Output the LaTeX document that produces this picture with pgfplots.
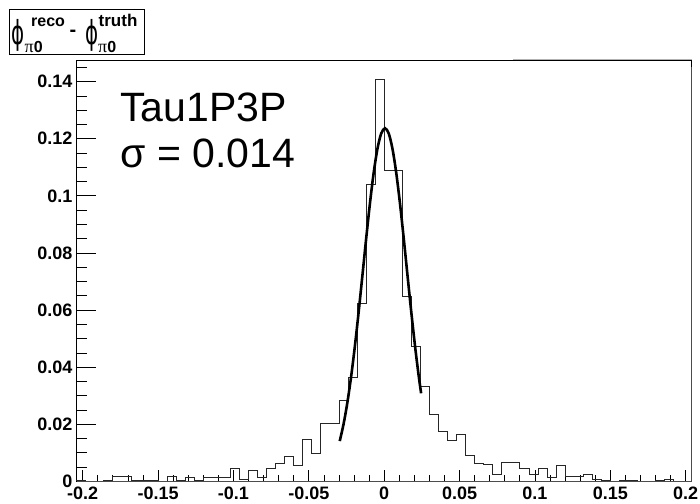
\documentclass[border=0pt]{standalone}
\usepackage{fontspec}
\setmainfont{Liberation Sans}
\newfontfamily\dejavu{DejaVu Sans}
\newfontfamily\lserif{Liberation Serif}
\usepackage{graphicx}
\usepackage{pgfplots}
\pgfplotsset{compat=1.18}
\begin{document}
\begin{tikzpicture}[x=1pt,y=1pt]
\path[use as bounding box] (0,0) rectangle (700,503);
\begin{axis}[
  at={(76.7pt,21.6pt)}, anchor=south west,
  scale only axis, width=615pt, height=421.4pt,
  xmin=-0.204, xmax=0.204, ymin=0, ymax=0.1476,
  xtick={-0.2,-0.15,-0.1,-0.05,0,0.05,0.1,0.15,0.2},
  xticklabels={-0.2,-0.15,-0.1,-0.05,0,0.05,0.1,0.15,0.2},
  minor x tick num=4,
  ytick={0,0.02,0.04,0.06,0.08,0.1,0.12,0.14},
  yticklabels={0,0.02,0.04,0.06,0.08,0.1,0.12,0.14},
  minor ytick={0.005,0.01,0.015,0.025,0.03,0.035,0.045,0.05,0.055,0.065,0.07,0.075,0.085,0.09,0.095,0.105,0.11,0.115,0.125,0.13,0.135,0.145},
  xtick pos=bottom, ytick pos=left, tick align=inside,
  xtick style={/pgfplots/major tick length=11pt,/pgfplots/minor tick length=6pt,black,line width=0.8pt},
  ytick style={/pgfplots/major tick length=19pt,/pgfplots/minor tick length=10pt,black,line width=0.8pt},
  ticklabel style={font=\bfseries\fontsize{18}{18}\selectfont},
  xticklabel style={inner sep=0pt, yshift=-5pt},
  yticklabel style={inner sep=0pt, xshift=-4pt},
  axis line style={line width=0.9pt, black},
  clip=false,
]
% histogram (bin width 0.006, left edges)
\addplot[const plot mark left, black!85, line width=0.8pt] table {
x y
-0.204 0
-0.204 0.0005
-0.198 0
-0.192 0
-0.186 0.0005
-0.180 0.0019
-0.174 0.0016
-0.168 0.0005
-0.162 0.0005
-0.156 0.0005
-0.150 0
-0.144 0.0017
-0.138 0.0005
-0.132 0.0014
-0.126 0.0005
-0.120 0.0014
-0.114 0.0014
-0.108 0.0014
-0.102 0.0044
-0.096 0.0006
-0.090 0.0038
-0.084 0.0015
-0.078 0.0045
-0.072 0.0063
-0.066 0.0088
-0.060 0.0056
-0.054 0.0147
-0.048 0.0097
-0.042 0.0203
-0.036 0.0203
-0.030 0.0283
-0.024 0.0365
-0.018 0.0624
-0.012 0.1042
-0.006 0.1408
0.000 0.1091
0.006 0.1091
0.012 0.0647
0.018 0.0472
0.024 0.0332
0.030 0.0236
0.036 0.0175
0.042 0.0143
0.048 0.0166
0.054 0.0090
0.060 0.0062
0.066 0.0058
0.072 0.0026
0.078 0.0065
0.084 0.0065
0.090 0.0044
0.096 0.0024
0.102 0.0044
0.108 0.0014
0.114 0.0055
0.120 0.0016
0.126 0.0016
0.132 0.0024
0.138 0.0008
0.144 0.0005
0.150 0
0.156 0.0005
0.162 0.0005
0.168 0
0.174 0
0.180 0.0005
0.186 0.0008
0.192 0
0.198 0
0.204 0
};
% fitted gaussian
\addplot[black, line width=2.6pt, smooth] coordinates {
(-0.0295,0.01413) (-0.0270,0.01998) (-0.0245,0.02741) (-0.0220,0.03649)
(-0.0195,0.04716) (-0.0170,0.05911) (-0.0145,0.07191) (-0.0120,0.08487)
(-0.0095,0.09720) (-0.0070,0.10801) (-0.0045,0.11647) (-0.0020,0.12185)
(0.0005,0.1237) (0.0030,0.12185) (0.0055,0.11647) (0.0080,0.10801)
(0.0105,0.09720) (0.0130,0.08487) (0.0155,0.07191) (0.0180,0.05911)
(0.0205,0.04716) (0.0230,0.03649) (0.0245,0.03085)
};
% red zero line
\addplot[red, line width=1.2pt] coordinates {(-0.204,0) (0.204,0)};
\draw[red, line width=1pt] (axis cs:0.204,0) -- (axis cs:0.204,0.145);
\draw[black!30, line width=1pt] (axis cs:0.0855,0.1476) -- (axis cs:0.204,0.1476);
\end{axis}
% statistics text
\node[anchor=base west, inner sep=0pt, font=\fontsize{41}{41}\selectfont] at (120,381) {Tau1P3P};
\node[anchor=base west, inner sep=0pt, font=\fontsize{41}{41}\selectfont] at (120.5,335) {σ = 0.014};
% title box
\draw[line width=1pt, fill=white] (9,493) rectangle (144,448);
\node[anchor=base west, inner sep=0pt] at (11,458.5) {\scalebox{0.6}[1]{\dejavu\fontsize{33}{33}\selectfont ϕ}};
\node[anchor=base west, inner sep=0pt] at (31,476) {\bfseries\fontsize{16}{16}\selectfont reco};
\node[anchor=base west, inner sep=0pt] at (24.5,450.5) {{\lserif\fontsize{18}{18}\selectfont π}{\bfseries\fontsize{16}{16}\selectfont 0}};
\node[anchor=base west, inner sep=0pt] at (69.5,466) {\bfseries\fontsize{20}{20}\selectfont -};
\node[anchor=base west, inner sep=0pt] at (85,458.5) {\scalebox{0.6}[1]{\dejavu\fontsize{33}{33}\selectfont ϕ}};
\node[anchor=base west, inner sep=0pt] at (98.5,476) {\bfseries\fontsize{17}{17}\selectfont truth};
\node[anchor=base west, inner sep=0pt] at (98,450.5) {{\lserif\fontsize{18}{18}\selectfont π}{\bfseries\fontsize{16}{16}\selectfont 0}};
\end{tikzpicture}
\end{document}
